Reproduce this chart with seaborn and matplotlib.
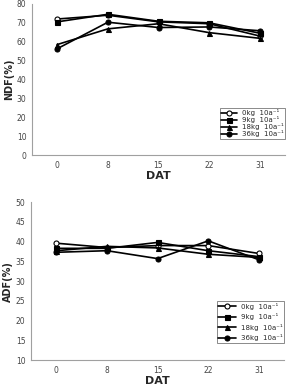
import matplotlib
matplotlib.use('Agg')
import pandas as pd
import seaborn as sns
import matplotlib.pyplot as plt

# Data
dat = ['0', '8', '15', '22', '31']
labels = ['0kg  10a⁻¹', '9kg  10a⁻¹', '18kg  10a⁻¹', '36kg  10a⁻¹']

ndf0 = [72.0, 74.0, 70.5, 69.5, 63.0]
ndf9 = [70.5, 74.5, 70.8, 70.0, 64.5]
ndf18 = [58.5, 66.8, 69.5, 64.8, 61.8]
ndf36 = [56.3, 70.3, 67.5, 67.8, 65.8]

adf0 = [39.6, 38.5, 39.0, 39.0, 37.0]
adf9 = [38.3, 38.3, 39.8, 37.7, 36.2]
adf18 = [37.7, 38.8, 38.4, 36.8, 36.0]
adf36 = [37.3, 37.7, 35.7, 40.2, 35.4]

# marker styles
markers = ['o', 's', '^', 'o']
faces = ['white', 'black', 'black', 'black']

sns.set_style('white')
plt.rcParams['font.family'] = ['DejaVu Sans']

fig = plt.figure(figsize=(2.93, 3.88), dpi=100)
axTop = fig.add_axes([0.109, 0.600, 0.864, 0.390])
axBot = fig.add_axes([0.106, 0.072, 0.864, 0.407])


def drawPanel(ax, series, ylab, ylim, yticks, spacing, hlen):
    for vals, lab, m, fc in zip(series, labels, markers, faces):
        df = pd.DataFrame({'DAT': dat, 'val': vals})
        sns.lineplot(data=df, x='DAT', y='val', ax=ax, color='black', lw=1.2,
                     marker=m, markersize=3.6, markerfacecolor=fc,
                     markeredgecolor='black', markeredgewidth=0.8, label=lab)
    ax.set_xlim(-0.5, 4.5)
    ax.set_ylim(*ylim)
    ax.set_yticks(yticks)
    ax.set_xlabel('DAT', fontsize=8, fontweight='bold', labelpad=1)
    ax.set_ylabel(ylab, fontsize=7, fontweight='bold', labelpad=2)
    ax.tick_params(labelsize=5.5, length=0, pad=4, colors='#444444')
    for s in ['top', 'right']:
        ax.spines[s].set_visible(False)
    for s in ['left', 'bottom']:
        ax.spines[s].set_color('#a0a0a0')
        ax.spines[s].set_linewidth(0.8)
    leg = ax.legend(loc='lower right', bbox_to_anchor=(1.0, 0.11), fontsize=5,
                    frameon=True, fancybox=False, handlelength=hlen,
                    borderpad=0.2, labelspacing=spacing, handletextpad=0.7,
                    borderaxespad=0)
    leg.get_frame().set_edgecolor('#555555')
    leg.get_frame().set_linewidth(0.6)


drawPanel(axTop, [ndf0, ndf9, ndf18, ndf36], 'NDF(%)', (0, 80), range(0, 81, 10), 0.0, 2.3)
drawPanel(axBot, [adf0, adf9, adf18, adf36], 'ADF(%)', (10, 50), range(10, 51, 5), 0.5, 2.6)

fig.savefig('out.png', dpi=100)
